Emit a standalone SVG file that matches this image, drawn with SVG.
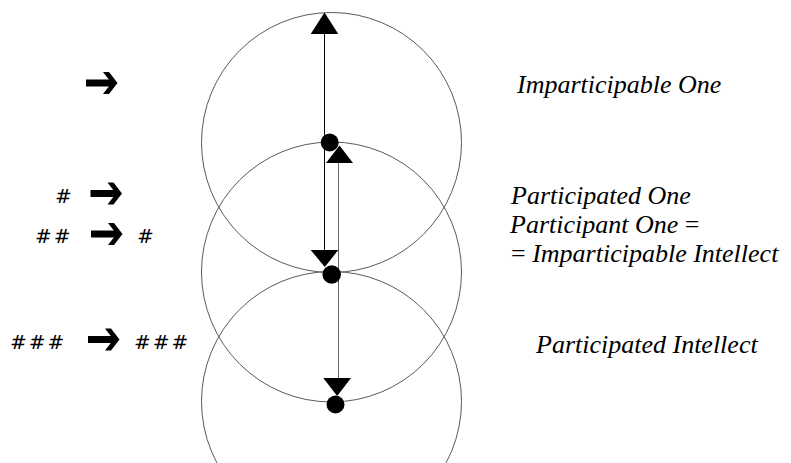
<svg xmlns="http://www.w3.org/2000/svg" width="791" height="463" viewBox="0 0 791 463">
<style>
.ring{fill:none;stroke:#5a5a5a;stroke-width:1}
.head{fill:#000}
.dot{fill:#000}
</style>
<defs>
<g id="bigarrow">
<rect x="0" y="-3.5" width="26" height="7" fill="#000"/>
<polygon points="17,-11 23,-11 31.5,0 23,11 17,11 25.5,0" fill="#000"/>
</g>
</defs>
<rect width="791" height="463" fill="#fff"/>
<g id="circle-top"><circle class="ring" cx="331.5" cy="142.5" r="130"/></g>
<g id="circle-middle"><circle class="ring" cx="331.5" cy="272" r="130"/></g>
<g id="circle-bottom"><circle class="ring" cx="331.5" cy="401.5" r="130"/></g>
<g id="connectors">
<line x1="324.5" y1="30" x2="324.5" y2="252" stroke="#000" stroke-width="1"/>
<line x1="338.5" y1="160" x2="338.5" y2="380" stroke="#666" stroke-width="1"/>
<polygon class="head" points="310.7,34 338.3,34 324.5,12.5"/>
<circle class="dot" cx="329.7" cy="142.5" r="9"/>
<polygon class="head" points="326,163 353,163 339.5,145.5"/>
<polygon class="head" points="310.7,250 338.3,250 324.8,267"/>
<circle class="dot" cx="331.7" cy="274.5" r="9.3"/>
<polygon class="head" points="323.3,378 351,378 337.2,396"/>
<circle class="dot" cx="335.5" cy="404.5" r="9"/>
</g>
<g id="left-row1"><use href="#bigarrow" x="86" y="83"/></g>
<g id="left-row2"><text x="55" y="203" font-family="DejaVu Sans, sans-serif" font-style="oblique" font-size="20" letter-spacing="2">#</text><use href="#bigarrow" x="90.5" y="193.5"/></g>
<g id="left-row3"><text x="35" y="243" font-family="DejaVu Sans, sans-serif" font-style="oblique" font-size="20" letter-spacing="2">##</text><use href="#bigarrow" x="91" y="234"/><text x="137" y="243" font-family="DejaVu Sans, sans-serif" font-style="oblique" font-size="20" letter-spacing="2">#</text></g>
<g id="left-row4"><text x="10" y="349" font-family="DejaVu Sans, sans-serif" font-style="oblique" font-size="20" letter-spacing="2">###</text><use href="#bigarrow" x="88" y="339.5"/><text x="134" y="349" font-family="DejaVu Sans, sans-serif" font-style="oblique" font-size="20" letter-spacing="2">###</text></g>
<g id="label-imparticipable-one"><text x="517" y="92.7" font-family="Liberation Serif, serif" font-style="italic" font-size="26">Imparticipable One</text></g>
<g id="label-participated-one"><text x="511" y="204.3" font-family="Liberation Serif, serif" font-style="italic" font-size="26">Participated One</text></g>
<g id="label-participant-one"><text x="510" y="233.3" font-family="Liberation Serif, serif" font-style="italic" font-size="26">Participant One <tspan font-style="normal">=</tspan></text></g>
<g id="label-imparticipable-intellect"><text x="511" y="262.3" font-family="Liberation Serif, serif" font-style="italic" font-size="26"><tspan font-style="normal">=</tspan> Imparticipable Intellect</text></g>
<g id="label-participated-intellect"><text x="536" y="353.3" font-family="Liberation Serif, serif" font-style="italic" font-size="26">Participated Intellect</text></g>
</svg>
